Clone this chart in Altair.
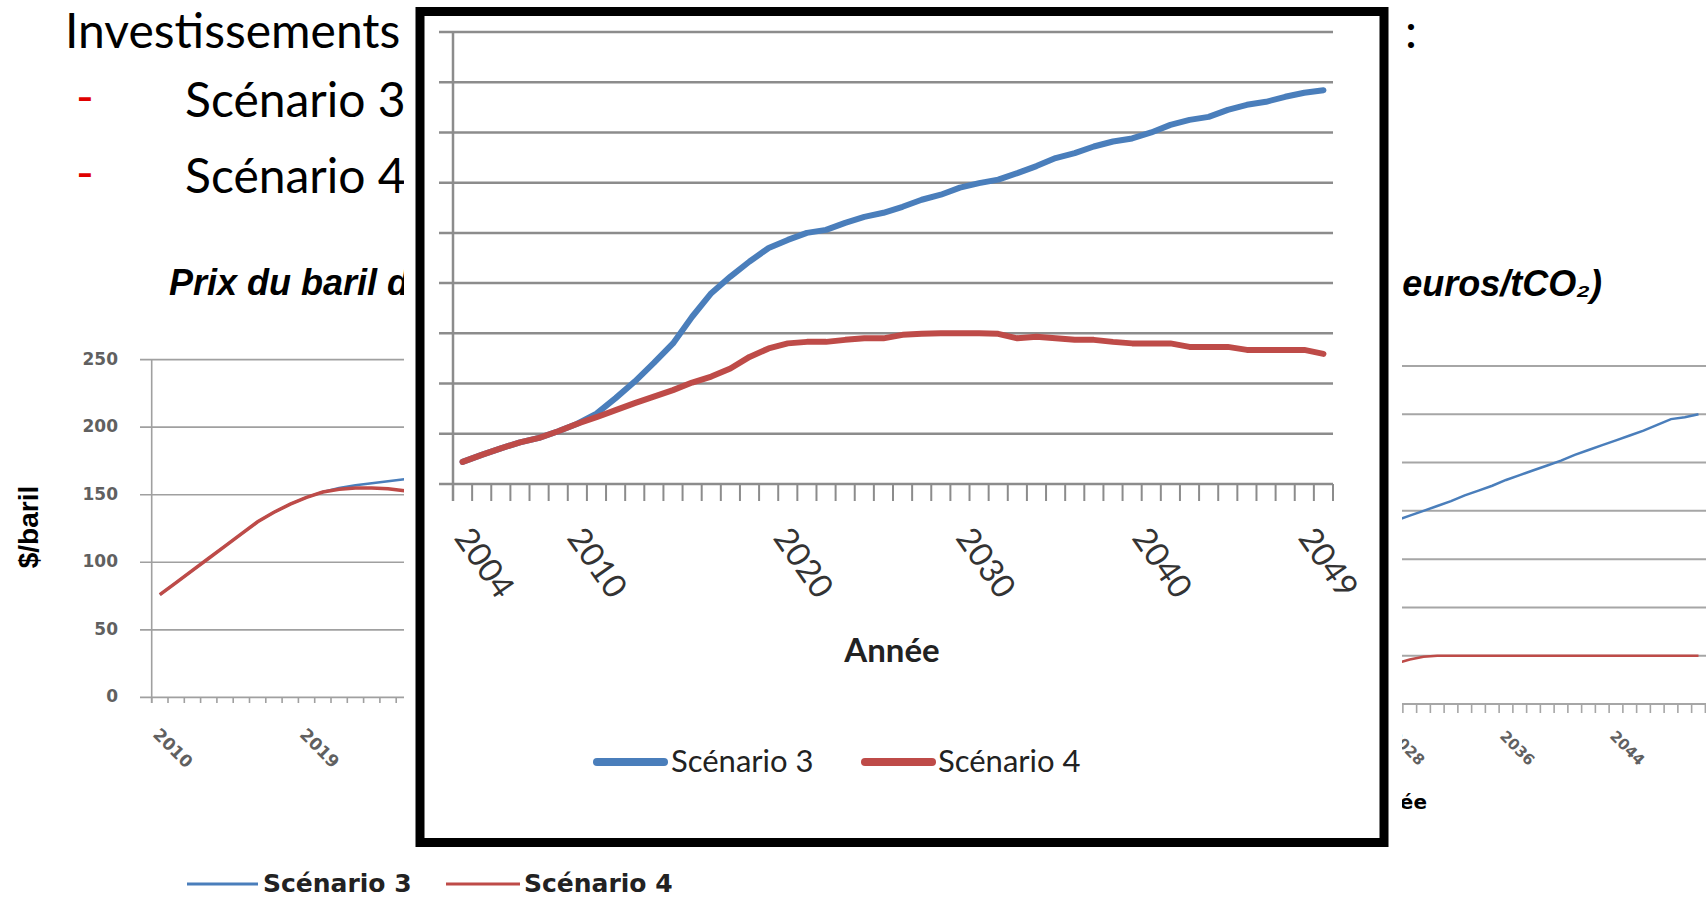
import math

import altair as alt
import pandas as pd

# ---------------------------------------------------------------- data
# Inset chart: two scenarios, 2004-2049 (arbitrary index units, no y labels)
inset_years = list(range(2004, 2050))
inset_s3 = [4.4, 5.8, 7.1, 8.3, 9.2, 10.5, 12.0, 14.0, 17.1, 20.4,
            24.1, 28.0, 33.3, 38.0, 41.3, 44.3, 47.0, 48.6, 50.0, 50.6,
            52.0, 53.2, 54.0, 55.2, 56.6, 57.6, 59.0, 59.9, 60.6, 61.9,
            63.3, 64.9, 65.9, 67.2, 68.2, 68.8, 70.0, 71.5, 72.5, 73.1,
            74.5, 75.5, 76.1, 77.1, 77.9, 78.4]
inset_s4 = [4.4, 5.8, 7.1, 8.3, 9.2, 10.5, 12.0, 13.3, 14.7, 16.1,
            17.4, 18.7, 20.2, 21.4, 23.0, 25.3, 27.0, 28.0, 28.3, 28.3,
            28.7, 29.0, 29.0, 29.7, 29.9, 30.0, 30.0, 30.0, 29.9, 29.0,
            29.3, 29.0, 28.7, 28.7, 28.3, 28.0, 28.0, 28.0, 27.3, 27.3,
            27.3, 26.7, 26.7, 26.7, 26.7, 25.9]
inset_grid = [0, 10, 20, 30, 40, 50, 60, 70, 80, 90]
inset_labels = [2004, 2010, 2020, 2030, 2040, 2049]

# Oil price ($/baril)
oil_years = list(range(2010, 2027))
oil_s3 = [76, 85, 94, 103, 112, 121, 130, 137, 143, 148, 152, 155, 157,
          158.5, 160, 161.5, 163]
oil_s4 = [76, 85, 94, 103, 112, 121, 130, 137, 143, 148, 152, 154, 155,
          155, 154.5, 153, 152]
oil_grid = [0, 50, 100, 150, 200, 250]
oil_labels = [2010, 2019]

# Carbon price (euros/tCO2)
co2_years = list(range(2026, 2051))
co2_s3 = [182, 186, 190, 195, 200, 205, 210, 216, 221, 226, 232, 237, 242,
          247, 252, 258, 263, 268, 273, 278, 283, 289, 295, 297, 300]
co2_s4 = [38, 40, 42, 46, 49, 50, 50, 50, 50, 50, 50, 50, 50, 50, 50, 50,
          50, 50, 50, 50, 50, 50, 50, 50, 50]
co2_grid = [0, 50, 100, 150, 200, 250, 300, 350]
co2_labels = [2028, 2036, 2044]

BLUE = "#4a7ebb"
RED = "#be4b48"
ONE = pd.DataFrame({"k": [0]})

# horizontal nudges (px) of the inset's hand-placed year labels
INSET_LABEL_NUDGE = {2004: 12, 2010: 10, 2020: 25, 2030: 16, 2040: 1, 2049: -5}
INSET_LABEL_ANGLE = 55


def frame(years, values):
    return pd.DataFrame({"year": years, "v": values})


def bounds(years):
    return pd.DataFrame({"b": [y - 0.5 for y in years] + [years[-1] + 0.5]})


def text(txt, x, y, **kw):
    kw.setdefault("baseline", "alphabetic")
    return alt.Chart(ONE).mark_text(text=txt, **kw).encode(
        x=alt.value(x), y=alt.value(y))


# ---------------------------------------------------------------- scales
def sx_oil():
    return alt.Scale(domain=[2009.5, 2026.5], range=[151.7, 151.7 + 17 * 16.3],
                     nice=False, zero=False)


def sy_oil():
    return alt.Scale(domain=[0, 250], range=[697.4, 359.6], nice=False, zero=False)


def sx_co2():
    return alt.Scale(domain=[2025.5, 2050.5],
                     range=[1616 - 18.5 * 13.75, 1616 + 6.5 * 13.75],
                     nice=False, zero=False)


def sy_co2():
    return alt.Scale(domain=[0, 350], range=[704, 366], nice=False, zero=False)


def sx_in():
    return alt.Scale(domain=[2003.5, 2049.5], range=[453, 1333], nice=False, zero=False)


def sy_in():
    return alt.Scale(domain=[0, 90], range=[484, 32], nice=False, zero=False)


layers = []

# ---------------------------------------------------------------- slide text
SLIDE_FONT = "Lato"
SLIDE_SIZE = 48
layers += [
    text("Investissements", 65, 48, font=SLIDE_FONT, fontSize=SLIDE_SIZE, align="left", color="#000"),
    text(":", 1405, 48, font=SLIDE_FONT, fontSize=SLIDE_SIZE, align="left", color="#000"),
    text("-", 76, 114, font=SLIDE_FONT, fontSize=SLIDE_SIZE, align="left", color="#e00000"),
    text("-", 76, 190, font=SLIDE_FONT, fontSize=SLIDE_SIZE, align="left", color="#e00000"),
    text("Scénario 3", 185, 117, font=SLIDE_FONT, fontSize=SLIDE_SIZE, align="left", color="#000"),
    text("Scénario 4", 185, 193, font=SLIDE_FONT, fontSize=SLIDE_SIZE, align="left", color="#000"),
    text("Prix du baril de pétrole", 169, 295, font="Liberation Sans", fontSize=36,
         fontWeight="bold", fontStyle="italic", align="left", color="#000"),
    text("euros/tCO₂)", 1602, 296, font="Liberation Sans", fontSize=36,
         fontWeight="bold", fontStyle="italic", align="right", color="#000"),
]

# ---------------------------------------------------------------- oil price chart
layers += [
    alt.Chart(pd.DataFrame({"g": oil_grid})).mark_rule(color="#a0a0a0", strokeWidth=1.6).encode(
        y=alt.Y("g:Q", scale=sy_oil(), axis=None), x=alt.value(140), x2=alt.value(420)),
    alt.Chart(ONE).mark_rule(color="#a0a0a0", strokeWidth=1.6).encode(
        x=alt.value(151.7), y=alt.value(359.6), y2=alt.value(703)),
    alt.Chart(bounds(oil_years)).mark_rule(color="#a0a0a0", strokeWidth=1.6).encode(
        x=alt.X("b:Q", scale=sx_oil(), axis=None), y=alt.value(697.4), y2=alt.value(703)),
    alt.Chart(pd.DataFrame({"g": oil_grid})).mark_text(
        font="DejaVu Sans", fontSize=17, fontWeight="bold", color="#606060",
        align="right", baseline="middle").encode(
        y=alt.Y("g:Q", scale=sy_oil(), axis=None), x=alt.value(118), text="g:Q"),
    alt.Chart(pd.DataFrame({"year": oil_labels})).mark_text(
        font="DejaVu Sans", fontSize=17, fontWeight="bold", color="#606060",
        align="left", baseline="top", angle=45, dx=2).encode(
        x=alt.X("year:Q", scale=sx_oil(), axis=None), y=alt.value(725), text="year:N"),
    text("$/baril", 30, 527, font="Liberation Sans", fontSize=28, fontWeight="bold",
         angle=270, align="center", baseline="middle", color="#000"),
    alt.Chart(frame(oil_years, oil_s3)).mark_line(color=BLUE, strokeWidth=2.5).encode(
        x=alt.X("year:Q", scale=sx_oil(), axis=None), y=alt.Y("v:Q", scale=sy_oil(), axis=None)),
    alt.Chart(frame(oil_years, oil_s4)).mark_line(color=RED, strokeWidth=3.5).encode(
        x=alt.X("year:Q", scale=sx_oil(), axis=None), y=alt.Y("v:Q", scale=sy_oil(), axis=None)),
]

# ---------------------------------------------------------------- carbon price chart
layers += [
    alt.Chart(pd.DataFrame({"g": co2_grid})).mark_rule(color="#a6a6a6", strokeWidth=2).encode(
        y=alt.Y("g:Q", scale=sy_co2(), axis=None), x=alt.value(1380), x2=alt.value(1706)),
    alt.Chart(bounds(co2_years)).mark_rule(color="#a6a6a6", strokeWidth=1.6).encode(
        x=alt.X("b:Q", scale=sx_co2(), axis=None), y=alt.value(704), y2=alt.value(713)),
    alt.Chart(pd.DataFrame({"year": co2_labels})).mark_text(
        font="DejaVu Sans", fontSize=15, fontWeight="bold", color="#606060",
        align="left", baseline="top", angle=45, dx=2).encode(
        x=alt.X("year:Q", scale=sx_co2(), axis=None), y=alt.value(727), text="year:N"),
    text("Année", 1427, 809, font="DejaVu Sans", fontSize=20, fontWeight="bold",
         align="right", color="#000"),
    alt.Chart(frame(co2_years, co2_s3)).mark_line(color=BLUE, strokeWidth=2.5).encode(
        x=alt.X("year:Q", scale=sx_co2(), axis=None), y=alt.Y("v:Q", scale=sy_co2(), axis=None)),
    alt.Chart(frame(co2_years, co2_s4)).mark_line(color=RED, strokeWidth=2.5).encode(
        x=alt.X("year:Q", scale=sx_co2(), axis=None), y=alt.Y("v:Q", scale=sy_co2(), axis=None)),
]

# ---------------------------------------------------------------- shared legend below
layers += [
    alt.Chart(ONE).mark_rule(color=BLUE, strokeWidth=3).encode(
        x=alt.value(187), x2=alt.value(258), y=alt.value(884)),
    text("Scénario 3", 263, 884, font="DejaVu Sans", fontSize=25, fontWeight="bold",
         align="left", baseline="middle", color="#222"),
    alt.Chart(ONE).mark_rule(color=RED, strokeWidth=3).encode(
        x=alt.value(446), x2=alt.value(520), y=alt.value(884)),
    text("Scénario 4", 524, 884, font="DejaVu Sans", fontSize=25, fontWeight="bold",
         align="left", baseline="middle", color="#222"),
]

# ---------------------------------------------------------------- framed inset
layers += [
    alt.Chart(ONE).mark_rect(color="white").encode(
        x=alt.value(404), x2=alt.value(1402), y=alt.value(0), y2=alt.value(858)),
    alt.Chart(ONE).mark_rect(fill="white", stroke="black", strokeWidth=9).encode(
        x=alt.value(420), x2=alt.value(1384), y=alt.value(11.5), y2=alt.value(842.5)),
    alt.Chart(pd.DataFrame({"g": inset_grid})).mark_rule(color="#8c8c8c", strokeWidth=2.5).encode(
        y=alt.Y("g:Q", scale=sy_in(), axis=None), x=alt.value(439), x2=alt.value(1333)),
    alt.Chart(ONE).mark_rule(color="#8c8c8c", strokeWidth=2.5).encode(
        x=alt.value(453), y=alt.value(32), y2=alt.value(501)),
    alt.Chart(bounds(inset_years)).mark_rule(color="#8c8c8c", strokeWidth=2).encode(
        x=alt.X("b:Q", scale=sx_in(), axis=None), y=alt.value(484), y2=alt.value(501)),
]
# dx/dy act in the rotated text frame; convert a horizontal screen shift
_a = math.radians(INSET_LABEL_ANGLE)
for yr in inset_labels:
    d = INSET_LABEL_NUDGE[yr]
    layers.append(
        alt.Chart(pd.DataFrame({"year": [yr]})).mark_text(
            font="Lato", fontSize=33, color="#333", align="left", baseline="top",
            angle=INSET_LABEL_ANGLE, dx=d * math.cos(_a), dy=-d * math.sin(_a)).encode(
            x=alt.X("year:Q", scale=sx_in(), axis=None), y=alt.value(523), text="year:N"))
layers += [
    text("Année", 892, 662, font="Lato", fontSize=33, fontWeight="bold",
         align="center", color="#222"),
    alt.Chart(frame(inset_years, inset_s3)).mark_line(
        color=BLUE, strokeWidth=6, strokeCap="round", strokeJoin="round").encode(
        x=alt.X("year:Q", scale=sx_in(), axis=None), y=alt.Y("v:Q", scale=sy_in(), axis=None)),
    alt.Chart(frame(inset_years, inset_s4)).mark_line(
        color=RED, strokeWidth=6, strokeCap="round", strokeJoin="round").encode(
        x=alt.X("year:Q", scale=sx_in(), axis=None), y=alt.Y("v:Q", scale=sy_in(), axis=None)),
    alt.Chart(ONE).mark_rule(color=BLUE, strokeWidth=8, strokeCap="round").encode(
        x=alt.value(597), x2=alt.value(664), y=alt.value(762)),
    text("Scénario 3", 671, 763, font="Lato", fontSize=31, align="left",
         baseline="middle", color="#222"),
    alt.Chart(ONE).mark_rule(color=RED, strokeWidth=8, strokeCap="round").encode(
        x=alt.value(865), x2=alt.value(932), y=alt.value(762)),
    text("Scénario 4", 938, 763, font="Lato", fontSize=31, align="left",
         baseline="middle", color="#222"),
]

chart = (
    alt.layer(*layers)
    .resolve_scale(x="independent", y="independent")
    .properties(width=1706, height=897, padding=0,
                autosize=alt.AutoSizeParams(type="none"))
    .configure_view(stroke=None)
)

chart.save("out.html", embed_options={"renderer": "svg", "actions": False})
